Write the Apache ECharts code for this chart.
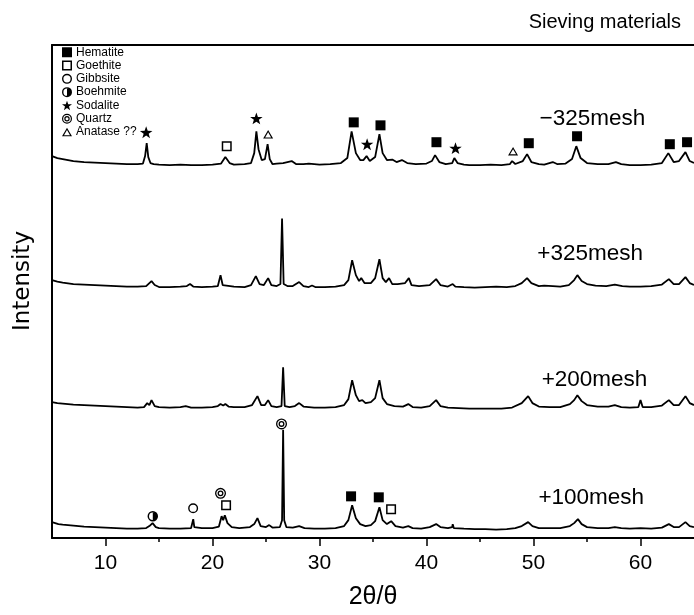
<!DOCTYPE html>
<html><head><meta charset="utf-8">
<script src="https://cdn.jsdelivr.net/npm/echarts/dist/echarts.min.js"></script>
<style>html,body{margin:0;padding:0;background:#fff}#c{width:694px;height:615px}</style>
</head><body><div id="c"></div>
<script>
// ---- axis ticks ----
const xMajorTicks = [10, 20, 30, 40, 50, 60];
const xMinorTicks = [15, 25, 35, 45, 55];

// ---- traces: [2theta, intensity (arb., stacked offsets included)] ----
const m325minus = [[5,385],[5.5,383],[6,382],[7,380],[8,379],[9,378.5],[10,378],[11,377.5],[12,377],[13,377],[13.5,377.5],[13.7,385],[13.85,398],[14.0,384],[14.2,378],[14.5,377],[15,376.5],[16,376],[17,376.5],[18,376],[19,376],[20,376.5],[20.8,377.5],[21.2,384],[21.6,378],[22,376.5],[23,377],[23.6,378],[23.9,388],[24.1,410],[24.3,392],[24.6,381],[24.9,382],[25.15,397],[25.35,382],[25.6,377],[26,377.5],[26.6,378],[27.4,380],[27.8,377],[28.5,377],[29,377.5],[30,376.5],[31,377],[32,378],[32.6,383],[33.0,410],[33.4,388],[33.8,381],[34.1,381],[34.4,385],[34.7,380],[35.2,384],[35.6,407],[35.9,388],[36.3,381],[36.8,381.5],[37.2,379],[37.7,381],[38.2,378],[39,377],[40,377.5],[40.5,380],[40.8,386],[41.2,379],[41.8,377],[42.4,378],[42.6,383],[42.9,378],[43.5,376.5],[44,376],[45,376],[46,376.5],[47,376],[47.8,377],[48.0,380],[48.3,377],[49.0,380],[49.4,387],[49.8,379],[50.5,377],[51,376.5],[51.8,379],[52.2,377],[53,377.5],[53.6,382],[54.0,395],[54.4,383],[55,378],[56,377],[57,377],[57.7,379],[58.2,377],[59,376],[60,376],[61,376.5],[62,378],[62.6,388],[63.1,379],[63.6,380],[64.2,389],[64.6,380],[65,378]];
const m325plus = [[5,260],[5.5,258.5],[6,257.5],[7,256],[8,255.5],[9,255],[10,254.5],[11,254],[12,253.5],[13,253.5],[13.8,254],[14.1,257],[14.3,259],[14.6,255],[15,253],[16,253],[17,253.5],[17.6,254],[17.9,256],[18.2,253.5],[19,253],[20,253.5],[20.5,254],[20.75,265],[20.95,255],[21.3,254.5],[22,253.5],[23,253],[23.6,255],[24.05,264],[24.4,256],[24.8,255],[25.2,262],[25.5,255],[26,254],[26.35,256],[26.5,322],[26.65,256],[27,254],[27.5,254],[28.1,258],[28.5,254],[29,253],[29.3,254.5],[29.6,253],[30.5,253],[31.5,253.5],[32.3,255],[32.7,260],[33.05,280],[33.4,265],[33.7,259],[33.9,262],[34.2,257],[34.8,257],[35.2,262],[35.6,281],[35.9,262],[36.2,258],[36.5,262],[36.8,256],[37.3,256],[38,257],[38.35,262],[38.6,255],[39.3,254],[40.3,255],[40.9,261],[41.3,255],[42,253.5],[42.45,256],[42.7,253.5],[43.5,253],[44.5,252.5],[45.5,253],[46.5,253.5],[47.5,253],[48.3,254],[48.9,257],[49.4,262],[49.8,257],[50.5,254],[51,254.5],[51.8,254],[52.5,253.5],[53.3,255],[53.8,260],[54.1,265],[54.5,259],[55,256],[55.8,254.5],[56.8,254],[57.6,255.5],[58.3,254],[59,253.5],[60,253.5],[61,254],[62,255.5],[62.65,261],[63.1,256],[63.6,256],[64.2,263],[64.6,257],[65,255]];
const m200plus = [[5,137],[5.5,136],[6,135.5],[7,134.5],[8,134],[9,133.5],[10,133],[11,132.5],[12,132],[13,131.5],[13.6,132],[13.9,136],[14.1,134],[14.3,139],[14.6,133],[15,132],[16,131.5],[17,132],[17.5,133],[18,131.5],[19,131.5],[20,132],[20.5,133],[20.75,135],[21.0,133.5],[21.2,135],[21.5,132.5],[22,132],[23,132],[23.7,134],[24.2,143],[24.55,134],[24.9,134],[25.2,139],[25.5,133],[26,132],[26.45,133],[26.6,172],[26.75,133],[27.2,132],[27.7,133],[28.1,136],[28.5,132.5],[29.5,131.5],[30.5,131.5],[31.5,132],[32.3,134],[32.7,140],[33.05,159],[33.4,144],[33.7,138],[34.0,139],[34.3,136],[34.8,137],[35.2,141],[35.6,159],[35.9,141],[36.3,135],[37,133],[37.8,132.5],[38.3,135],[38.7,132],[39.5,131.5],[40.3,133],[40.9,139],[41.3,133],[42,131.5],[43,131],[44,130.5],[45,130.5],[46,130.5],[47,130.5],[48,131.5],[48.9,136],[49.5,143],[49.9,136],[50.5,132.5],[51.5,132],[52.5,132],[53.4,135],[53.8,139],[54.1,144],[54.5,138],[55,134],[56,132.5],[57,132.5],[57.6,134],[58.2,132],[59,131.5],[59.8,132],[60.0,139],[60.2,132],[61,132],[62,133.5],[62.65,139],[63.1,134],[63.6,134],[64.2,143],[64.6,136],[65,134]];
const m100plus = [[5,16],[5.3,15],[5.6,14],[6,13.5],[7,12.5],[8,11.5],[9,11],[10,10.5],[11,10],[12,9.5],[13,9.5],[13.8,10],[14.1,12],[14.4,15],[14.7,11],[15,10],[16,9.5],[17,9.5],[18,10],[18.1,12],[18.2,19],[18.3,11],[19,10],[20,10],[20.6,11.5],[20.85,22],[21.0,18],[21.15,23],[21.4,15],[21.8,11],[22.5,10],[23.5,11],[23.9,14],[24.2,20],[24.5,12],[25,11],[25.3,13],[25.6,10.5],[26.3,11],[26.5,18],[26.6,109],[26.7,18],[26.9,11],[27.5,10.5],[28.1,12],[28.6,10],[29.5,9.5],[30.5,9.5],[31.5,10],[32.3,12],[32.7,18],[33.05,33],[33.4,20],[33.8,14],[34.3,12],[34.8,13],[35.2,17],[35.6,31],[35.9,18],[36.3,14],[36.7,17],[37.1,12],[37.8,10.5],[38.3,12],[38.7,10],[39.5,9.5],[40.3,11],[40.9,14],[41.3,11],[42,10],[42.4,11],[42.45,14],[42.55,10],[43.5,9.5],[44.5,9],[45.5,9],[46.5,8.5],[47.5,9],[48.3,10],[48.9,12],[49.5,16],[49.9,12],[50.5,10],[51.5,10],[52.5,10],[53.4,12],[53.8,15],[54.15,19],[54.5,14],[55,11],[56,10],[57,10],[57.6,11],[58.2,10],[59,9.5],[60,10],[61,9.5],[62,10.5],[62.65,14],[63.1,11],[63.6,11],[64.2,16],[64.6,12],[65,11]];

// ---- phase identification marks [2theta, height] ----
const hematiteMarks = [[33.2,419],[35.7,416],[40.93,399],[49.56,398],[54.07,405],[62.74,397],[64.35,399],[32.95,42],[35.54,41]];
const goethiteMarks = [[21.33,395],[21.27,33],[36.69,29]];
const gibbsiteMarks = [[18.19,30]];
const boehmiteMarks = [[14.42,22]];
const sodaliteMarks = [[13.8,409],[24.1,423],[34.45,397],[42.71,393]];
const quartzMarks = [[20.75,45],[26.45,115]];
const anataseMarks = [[25.2,407],[48.09,390]];

// ---- sample labels ----
const sampleLabels = [[55.5,423,'\u2212325mesh'],[55.3,287,'+325mesh'],[55.7,159,'+200mesh'],[55.4,41,'+100mesh']];

const SYM = {
  hematite: 'path://M0,0 H20 V20 H0 Z',
  goethite: 'path://M0,0 H20 V20 H0 Z M3,3 V17 H17 V3 Z',
  gibbsite: 'path://M10,0 A10,10 0 1 1 10,20 A10,10 0 1 1 10,0 Z M10,2.8 A7.2,7.2 0 1 0 10,17.2 A7.2,7.2 0 1 0 10,2.8 Z',
  boehmite: 'path://M10,0 A10,10 0 1 1 10,20 A10,10 0 1 1 10,0 Z M10,2.8 A7.2,7.2 0 1 0 10,17.2 A7.2,7.2 0 1 0 10,2.8 Z M10,0 A10,10 0 0 1 10,20 Z',
  sodalite: 'path://M10,0 L12.35,6.8 L19.51,6.91 L13.8,11.2 L15.88,18.09 L10,14 L4.12,18.09 L6.2,11.2 L0.49,6.91 L7.65,6.8 Z',
  quartz: 'path://M10,0 A10,10 0 1 1 10,20 A10,10 0 1 1 10,0 Z M10,2.4 A7.6,7.6 0 1 0 10,17.6 A7.6,7.6 0 1 0 10,2.4 Z M10,4.6 A5.4,5.4 0 1 1 10,15.4 A5.4,5.4 0 1 1 10,4.6 Z M10,7 A3,3 0 1 0 10,13 A3,3 0 1 0 10,7 Z',
  anatase: 'path://M10,0 L20,17 L0,17 Z M10,4.6 L4,14.7 L16,14.7 Z'
};

const FONT = '"Liberation Sans", Arial, Helvetica, sans-serif';
const WIDE = '"DejaVu Sans", Verdana, sans-serif';
const chart = echarts.init(document.getElementById('c'), null, {renderer: 'canvas'});

function traceSeries(name, data) {
  return {type: 'line', name: name, data: data, showSymbol: false, symbol: 'none',
    lineStyle: {color: '#000', width: 1.8}, z: 2, animation: false, silent: true};
}
function markSeries(name, sym, size, data) {
  return {type: 'scatter', name: name, data: data, symbol: sym, symbolSize: size,
    symbolKeepAspect: true, itemStyle: {color: '#000', opacity: 1}, z: 5, animation: false, silent: true};
}

const option = {
  backgroundColor: '#fff',
  animation: false,
  textStyle: {fontFamily: FONT},
  title: {text: 'Sieving materials', right: 8, top: 7,
    textStyle: {fontSize: 20, fontWeight: 'normal', color: '#000', fontFamily: FONT}},
  legend: {
    orient: 'vertical', left: 62, top: 46, padding: 0, itemWidth: 10, itemHeight: 10, itemGap: 0.8,
    itemStyle: {color: '#000', opacity: 1},
    textStyle: {fontSize: 12, color: '#000', lineHeight: 12.5, fontFamily: FONT, padding: [0, 0, 0, -1]},
    selectedMode: false,
    data: [
      {name: 'Hematite', icon: SYM.hematite},
      {name: 'Goethite', icon: SYM.goethite},
      {name: 'Gibbsite', icon: SYM.gibbsite},
      {name: 'Boehmite', icon: SYM.boehmite},
      {name: 'Sodalite', icon: SYM.sodalite},
      {name: 'Quartz', icon: SYM.quartz},
      {name: 'Anatase ??', icon: SYM.anatase}
    ]
  },
  grid: {left: 52, top: 45, right: -1, bottom: 73, containLabel: false},
  xAxis: [
    {type: 'value', min: 5, max: 65, interval: 5, position: 'bottom',
      axisLine: {show: true, onZero: false, lineStyle: {color: '#000', width: 2}},
      axisTick: {show: true, customValues: xMajorTicks, length: 8, lineStyle: {color: '#000', width: 1.5}},
      axisLabel: {customValues: xMajorTicks, fontSize: 21, color: '#000', margin: 15, fontFamily: FONT},
      splitLine: {show: false},
      name: '2\u03b8/\u03b8', nameLocation: 'middle', nameGap: 47,
      nameTextStyle: {fontSize: 25, color: '#000', fontFamily: FONT}},
    {type: 'value', min: 5, max: 65, interval: 5, position: 'bottom',
      axisLine: {show: false, onZero: false},
      axisTick: {show: true, customValues: xMinorTicks, length: 4, lineStyle: {color: '#000', width: 1.5}},
      axisLabel: {show: false}, splitLine: {show: false}},
    {type: 'value', min: 5, max: 65, interval: 5, position: 'top',
      axisLine: {show: true, onZero: false, lineStyle: {color: '#000', width: 2}},
      axisTick: {show: false}, axisLabel: {show: false}, splitLine: {show: false}}
  ],
  yAxis: {type: 'value', min: 0, max: 497,
    axisLine: {show: true, onZero: false, lineStyle: {color: '#000', width: 2}},
    axisTick: {show: false}, axisLabel: {show: false}, splitLine: {show: false}},
  graphic: [{type: 'text', left: 12, top: 231, rotation: Math.PI / 2,
    style: {text: 'Intensity', fill: '#000', font: '23px ' + WIDE}}],
  series: [
    traceSeries('-325mesh', m325minus),
    traceSeries('+325mesh', m325plus),
    traceSeries('+200mesh', m200plus),
    traceSeries('+100mesh', m100plus),
    markSeries('Hematite', SYM.hematite, 10, hematiteMarks),
    markSeries('Goethite', SYM.goethite, 10, goethiteMarks),
    markSeries('Gibbsite', SYM.gibbsite, 10, gibbsiteMarks),
    markSeries('Boehmite', SYM.boehmite, 10.5, boehmiteMarks),
    markSeries('Sodalite', SYM.sodalite, 12.5, sodaliteMarks),
    markSeries('Quartz', SYM.quartz, 11, quartzMarks),
    markSeries('Anatase ??', SYM.anatase, 10, anataseMarks),
    {type: 'scatter', name: 'labels', data: sampleLabels, symbolSize: 1,
      itemStyle: {color: 'rgba(0,0,0,0)'}, z: 6, animation: false, silent: true,
      label: {show: true, position: 'inside', formatter: p => p.value[2],
        fontSize: 22.5, color: '#000', textBorderWidth: 0, textBorderColor: 'transparent',
        opacity: 1, fontFamily: FONT}}
  ]
};
chart.setOption(option);
</script>
</body></html>
